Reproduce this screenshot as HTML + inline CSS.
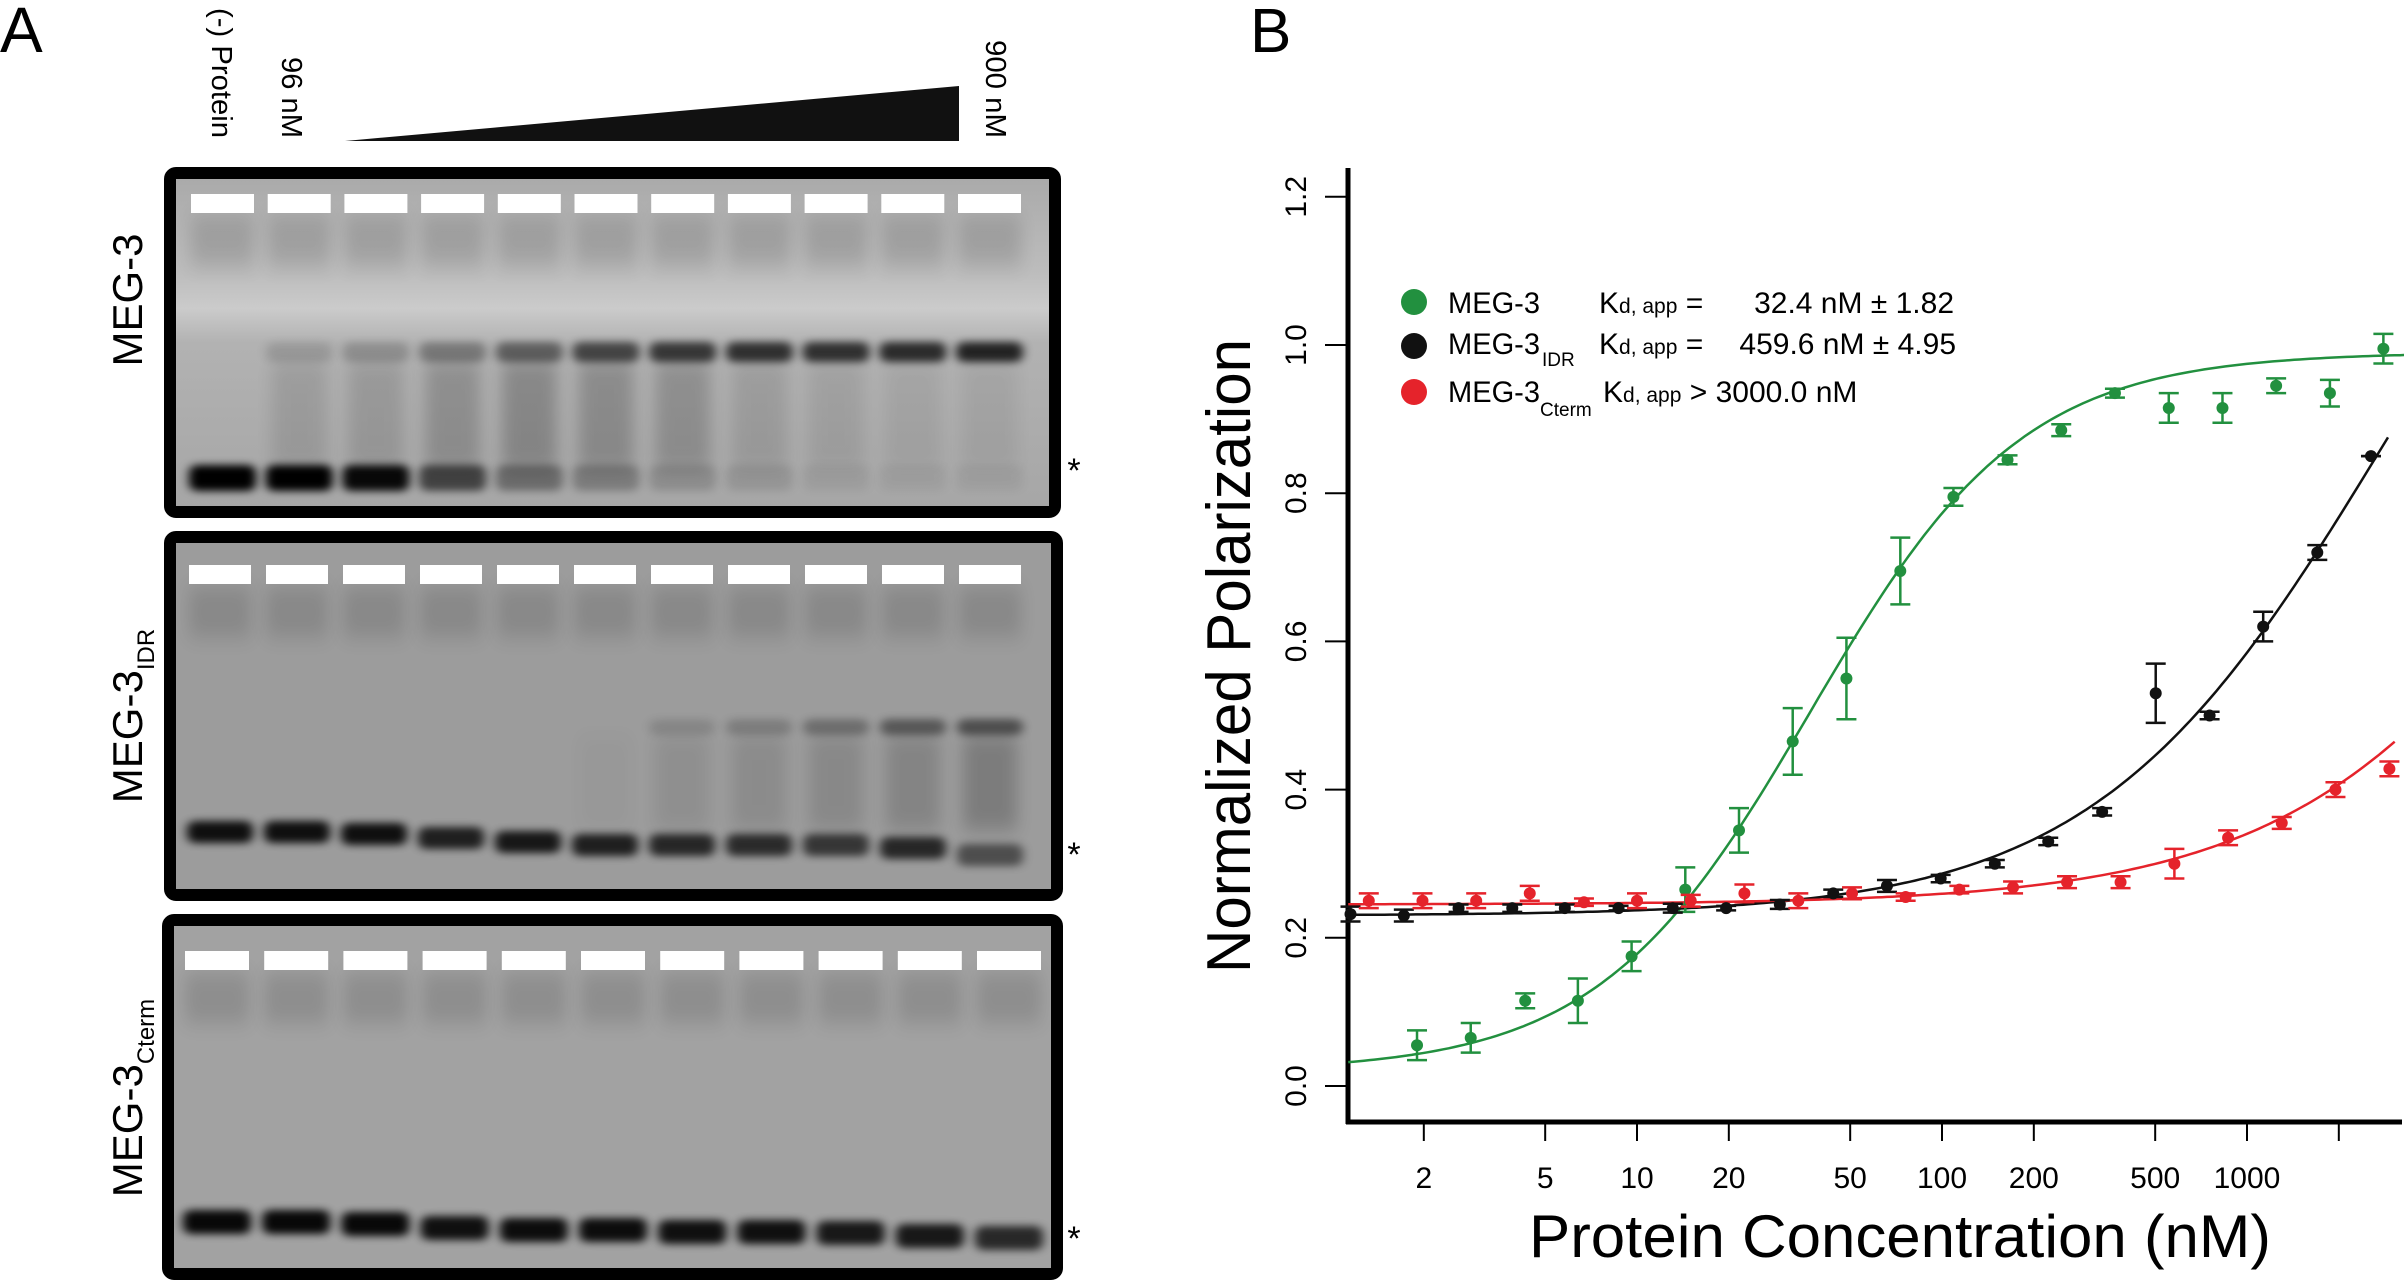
<!DOCTYPE html>
<html><head><meta charset="utf-8"><style>
html,body{margin:0;padding:0;background:#fff;}
svg{display:block;font-family:"Liberation Sans",Arial,sans-serif;}
</style></head><body>
<svg id="fig" width="2404" height="1282" viewBox="0 0 2404 1282" xmlns="http://www.w3.org/2000/svg">
<defs>
<filter id="blur" x="-30%" y="-100%" width="160%" height="300%"><feGaussianBlur stdDeviation="5 4"/></filter>
<filter id="blur2" x="-30%" y="-100%" width="160%" height="300%"><feGaussianBlur stdDeviation="8 10"/></filter>
<linearGradient id="g1" x1="0" y1="0" x2="0" y2="1">
<stop offset="0" stop-color="#a9a9a9"/><stop offset="0.3" stop-color="#bdbdbd"/><stop offset="0.4" stop-color="#cbcbcb"/><stop offset="0.5" stop-color="#b2b2b2"/><stop offset="1" stop-color="#a6a6a6"/>
</linearGradient>
</defs>
<g id="panelA"></g>
<g id="panelB"></g>
</svg>
<script>
// ---------- Chart data ----------
const greenConc = [1.9,2.85,4.3,6.4,9.6,14.4,21.6,32.4,48.6,73,109,164,246,369,554,831,1246,1870,2800];
const greenVal  = [0.055,0.065,0.115,0.115,0.175,0.265,0.345,0.465,0.55,0.695,0.795,0.845,0.885,0.935,0.915,0.915,0.945,0.935,0.995];
const greenErr  = [0.02,0.02,0.01,0.03,0.02,0.03,0.03,0.045,0.055,0.045,0.012,0.006,0.008,0.006,0.02,0.02,0.01,0.018,0.02];
const blackConc = [1.15,1.72,2.6,3.9,5.8,8.7,13.1,19.6,29.4,44,66,99,149,223,335,502,754,1130,1700,2550];
const blackVal  = [0.232,0.23,0.24,0.24,0.24,0.24,0.24,0.24,0.245,0.26,0.27,0.28,0.30,0.33,0.37,0.53,0.50,0.62,0.72,0.85];
const blackErr  = [0.01,0.008,0.005,0.005,0.005,0.003,0.006,0.003,0.006,0.005,0.008,0.005,0.005,0.005,0.005,0.04,0.005,0.02,0.01,0.0];
const redConc   = [1.32,1.98,2.97,4.45,6.7,10,15,22.5,33.8,50.7,76,114,171,257,385,578,867,1300,1950,2930];
const redVal    = [0.25,0.25,0.25,0.26,0.248,0.25,0.25,0.26,0.25,0.26,0.255,0.265,0.268,0.275,0.275,0.30,0.335,0.355,0.40,0.428];
const redErr    = [0.01,0.01,0.01,0.01,0.005,0.01,0.008,0.012,0.01,0.008,0.005,0.005,0.008,0.008,0.008,0.02,0.01,0.008,0.01,0.01];
// Hill fit parameters [bottom, top, K, n]
const greenFit = [0.02,0.99,37,1.25];
const blackFit = [0.23,1.5,2800,0.92];
const redFit   = [0.245,1.5,18900,0.85];
const xTicks = [2,5,10,20,50,100,200,500,1000,2000];
const xTickLabels = ["2","5","10","20","50","100","200","500","1000",""];
const yTicks = [0,0.2,0.4,0.6,0.8,1.0,1.2];
const yTickLabels = ["0.0","0.2","0.4","0.6","0.8","1.0","1.2"];

const NS="http://www.w3.org/2000/svg";
function mk(tag,attrs,parent){const e=document.createElementNS(NS,tag);for(const k in attrs)e.setAttribute(k,attrs[k]);parent.appendChild(e);return e;}
const B=document.getElementById('panelB');
const X=c=>1637+305*(Math.log10(c)-1);
const Y=v=>1086-741*v;
const GREEN="#22903f",BLACK="#111",RED="#e5232b";

let t=mk('text',{x:1250,y:52,'font-size':62},B);t.textContent='B';



let ax=mk('line',{x1:1348,y1:168,x2:1348,y2:1124,stroke:'#000','stroke-width':5},B);


ax=mk('line',{x1:1346,y1:1122,x2:2402,y2:1122,stroke:'#000','stroke-width':5},B);



yTicks.forEach((v,i)=>{
  const l=mk('line',{x1:1325,y1:Y(v),x2:1348,y2:Y(v),stroke:'#000','stroke-width':2},B);
  
  
  const tx=mk('text',{x:1306,y:Y(v),'font-size':30,'text-anchor':'middle',transform:`rotate(-90 1306 ${Y(v)})`},B);
  tx.textContent=yTickLabels[i];
  
  
});
xTicks.forEach((c,i)=>{
  const l=mk('line',{x1:X(c),y1:1122,x2:X(c),y2:1141,stroke:'#000','stroke-width':2},B);
  
  
  const tx=mk('text',{x:X(c),y:1188,'font-size':30,'text-anchor':'middle'},B);
  tx.textContent=xTickLabels[i];
  
  
});
t=mk('text',{x:1250,y:656,'font-size':62,'text-anchor':'middle',textLength:634,lengthAdjust:'spacingAndGlyphs',transform:'rotate(-90 1250 656)'},B);
t.textContent='Normalized Polarization';


t=mk('text',{x:1900,y:1257,'font-size':60,'text-anchor':'middle',textLength:742,lengthAdjust:'spacingAndGlyphs'},B);
t.textContent='Protein Concentration (nM)';



function hill(p,c){const r=Math.pow(c/p[2],p[3]);return p[0]+(p[1]-p[0])*r/(1+r);}
function curve(p,c0,c1,col,name){
  let d='';for(let i=0;i<=200;i++){const lc=Math.log10(c0)+(Math.log10(c1)-Math.log10(c0))*i/200;const c=Math.pow(10,lc);d+=(i?'L':'M')+X(c).toFixed(1)+' '+Y(hill(p,c)).toFixed(1);}
  const e=mk('path',{d:d,fill:'none',stroke:col,'stroke-width':2.5},B);
  
  
}
curve(greenFit,1.13,3300,GREEN,'meg3-fit-curve');
curve(blackFit,1.13,2900,BLACK,'meg3-idr-fit-curve');
curve(redFit,1.13,3050,RED,'meg3-cterm-fit-curve');

function series(conc,val,err,col,name){
  const g=mk('g',{},B);
  
  
  conc.forEach((c,i)=>{
    const x=X(c),y1=Y(val[i]+err[i]),y2=Y(val[i]-err[i]);
    mk('line',{x1:x,y1:y1,x2:x,y2:y2,stroke:col,'stroke-width':2.5},g);
    mk('line',{x1:x-10,y1:y1,x2:x+10,y2:y1,stroke:col,'stroke-width':2.5},g);
    mk('line',{x1:x-10,y1:y2,x2:x+10,y2:y2,stroke:col,'stroke-width':2.5},g);
    const p=mk('circle',{cx:x,cy:Y(val[i]),r:6,fill:col},g);
    
    
  });
}
series(greenConc,greenVal,greenErr,GREEN,'meg3-series');
series(blackConc,blackVal,blackErr,BLACK,'meg3-idr-series');
series(redConc,redVal,redErr,RED,'meg3-cterm-series');

const L=mk('g',{'font-size':30},B);


L.innerHTML=`
<g><circle cx="1414" cy="302" r="13" fill="${GREEN}"/>
<text x="1448" y="313" textLength="92" lengthAdjust="spacingAndGlyphs">MEG-3</text>
<text x="1599" y="313">K<tspan font-size="21">d, app</tspan> =</text>
<text x="1954" y="313" text-anchor="end">32.4 nM ± 1.82</text></g>
<g><circle cx="1414" cy="346" r="13" fill="${BLACK}"/>
<text x="1448" y="354" textLength="92" lengthAdjust="spacingAndGlyphs">MEG-3</text><text x="1542" y="366" font-size="19">IDR</text>
<text x="1599" y="354">K<tspan font-size="21">d, app</tspan> =</text>
<text x="1956" y="354" text-anchor="end">459.6 nM ± 4.95</text></g>
<g><circle cx="1414" cy="392" r="13" fill="${RED}"/>
<text x="1448" y="402" textLength="92" lengthAdjust="spacingAndGlyphs">MEG-3</text><text x="1540" y="416" font-size="19">Cterm</text>
<text x="1603" y="402">K<tspan font-size="21">d, app</tspan> &gt; 3000.0 nM</text></g>`;

// ---------- Panel A (gels) ----------
const A=document.getElementById('panelA');
t=mk('text',{x:0,y:52,'font-size':64},A);t.textContent='A';


[['(-) Protein',222,8,130],['96 nM',292,57,81],['900 nM',996,40,98]].forEach(a=>{
  const e=mk('text',{x:a[1]-10,y:a[2],'font-size':29,textLength:a[3],lengthAdjust:'spacingAndGlyphs',transform:`rotate(90 ${a[1]-10} ${a[2]})`},A);
  e.textContent=a[0];
  
  
});
let tri=mk('polygon',{points:'345,141 959,86 959,141',fill:'#111'},A);



const gels=[
 {name:'meg3-gel',box:[165,168,1060,517],bg:'url(#g1)',wells:[191,76.7,63,194,19],
  bands:[{y:[478],h:26,k:[1,1,0.95,0.6,0.35,0.25,0.15,0.1,0.06,0.05,0.05]},
         {y:[352],h:20,k:[0,0.12,0.18,0.3,0.45,0.6,0.68,0.72,0.72,0.75,0.8]}],
  smear:[0,0.1,0.12,0.18,0.22,0.2,0.18,0.1,0.08,0.06,0.06],smearY:[360,470],
  label:'MEG-3',sub:'',ly:300,ast:482},
 {name:'meg3-idr-gel',box:[165,532,1062,900],bg:'#9c9c9c',wells:[189,77,62,565,19],
  bands:[{y:[832,832,834,838,842,845,845,845,845,848,855],h:22,k:[0.9,0.9,0.9,0.8,0.85,0.8,0.75,0.72,0.65,0.75,0.5]},
         {y:[727],h:16,k:[0,0,0,0,0,0,0.12,0.18,0.28,0.42,0.48]}],
  smear:[0,0,0,0,0,0.02,0.08,0.1,0.12,0.15,0.2],smearY:[735,830],
  label:'MEG-3',sub:'IDR',ly:716,ast:866},
 {name:'meg3-cterm-gel',box:[163,915,1062,1279],bg:'#a2a2a2',wells:[185,79.2,64,951,19],
  bands:[{y:[1222,1222,1224,1228,1230,1230,1232,1232,1233,1236,1238],h:24,k:[0.95,0.95,0.95,0.9,0.92,0.92,0.9,0.9,0.85,0.85,0.75]}],
  smear:[0,0,0,0,0,0,0,0,0,0,0],smearY:[1000,1200],
  label:'MEG-3',sub:'Cterm',ly:1098,ast:1250}
];
gels.forEach(G=>{
  const g=mk('g',{},A);
  
  
  const [x0,y0,x1,y1]=G.box;
  mk('rect',{x:x0+5,y:y0+5,width:x1-x0-10,height:y1-y0-10,fill:G.bg},g);
  const w=G.wells;
  for(let i=0;i<11;i++){
    const lx=w[0]+i*w[1];
    mk('rect',{x:lx,y:w[3]+22,width:w[2],height:50,fill:'#000',opacity:0.12,filter:'url(#blur2)'},g);
    if(G.smear[i]>0)mk('rect',{x:lx+4,y:G.smearY[0],width:w[2]-8,height:G.smearY[1]-G.smearY[0],fill:'#000',opacity:G.smear[i],filter:'url(#blur2)'},g);
    G.bands.forEach(b=>{
      const k=b.k[i];if(k<=0)return;
      const by=b.y.length>1?b.y[i]:b.y[0];
      mk('rect',{x:lx-2,y:by-b.h/2,width:w[2]+4,height:b.h,rx:8,fill:'#000',opacity:Math.min(1,k),filter:'url(#blur)'},g);
    });
    const wr=mk('rect',{x:lx,y:w[3],width:w[2],height:w[4],fill:'#fff'},g);
    
    
  }
  mk('rect',{x:x0+5,y:y0+5,width:x1-x0-10,height:y1-y0-10,rx:6,fill:'none',stroke:'#000','stroke-width':12},g);
  const lt=mk('text',{x:142,y:G.ly,'font-size':42,'text-anchor':'middle',transform:`rotate(-90 142 ${G.ly})`},A);
  lt.innerHTML=G.label+(G.sub?`<tspan font-size="24" dy="12">${G.sub}</tspan>`:'');
  
  
  const as=mk('text',{x:1074,y:G.ast,'font-size':34,'text-anchor':'middle'},A);
  as.textContent='*';
  
  
});
</script>
</body></html>
